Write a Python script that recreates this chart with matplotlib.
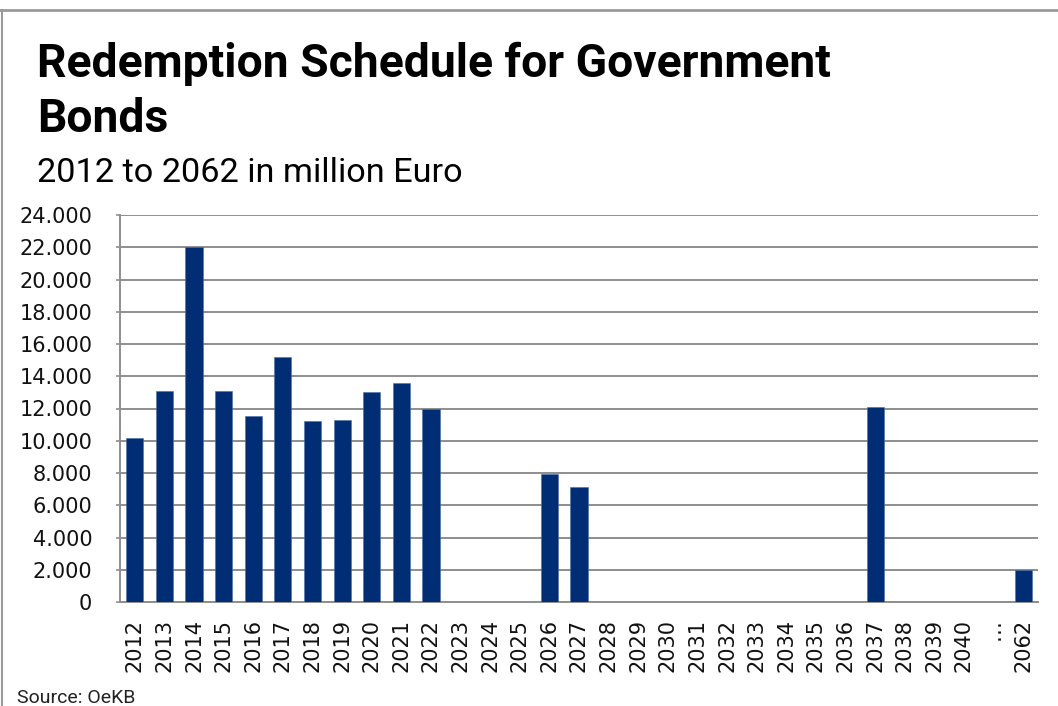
import matplotlib
matplotlib.use("Agg")
import matplotlib.pyplot as plt
from matplotlib.lines import Line2D
from matplotlib.ticker import FuncFormatter

categories = ["2012", "2013", "2014", "2015", "2016", "2017", "2018", "2019", "2020",
              "2021", "2022", "2023", "2024", "2025", "2026", "2027", "2028", "2029",
              "2030", "2031", "2032", "2033", "2034", "2035", "2036", "2037", "2038",
              "2039", "2040", "…", "2062"]
values = [10170, 13100, 22000, 13100, 11550, 15200, 11250, 11300, 13000,
          13600, 11970, 0, 0, 0, 7930, 7130, 0, 0,
          0, 0, 0, 0, 0, 0, 0, 12100, 0,
          0, 0, 0, 2000]
yticks = list(range(0, 24001, 2000))

BAR = "#002D74"
GRID = "#8E8E8E"

fig = plt.figure(figsize=(10.58, 7.06), dpi=100)
W, H = 1058, 706
ax = fig.add_axes([120 / W, 1 - 602 / H, (1038 - 120) / W, (602 - 215) / H])

x = list(range(len(categories)))
ax.bar(x, values, width=0.58, color=BAR, edgecolor="#4A6FA8", linewidth=0.4, zorder=3)
ax.set_xlim(-0.5, len(categories) - 0.5)
ax.set_ylim(0, 24000)
ax.set_yticks(yticks)
ax.yaxis.set_major_formatter(FuncFormatter(lambda v, p: f"{int(v):,}".replace(",", ".")))
ax.set_xticks(x)
ax.set_xticklabels(categories, rotation=90)
ax.grid(axis="y", color=GRID, linewidth=1.4, zorder=0)
for s in ["top", "right"]:
    ax.spines[s].set_visible(False)
ax.spines["left"].set_color(GRID)
ax.spines["left"].set_linewidth(1.4)
ax.spines["bottom"].set_color(GRID)
ax.spines["bottom"].set_linewidth(1.4)
ax.tick_params(axis="y", length=3, color=GRID, width=1.2, labelsize=15, pad=17,
               labelcolor="#111111")
ax.tick_params(axis="x", length=0, labelsize=15, pad=12, labelcolor="#111111")

# frame lines
fig.add_artist(Line2D([0, 1], [1 - 10 / H, 1 - 10 / H], transform=fig.transFigure,
                      color="#9A9A9A", linewidth=2))
fig.add_artist(Line2D([2 / W, 2 / W], [0, 1 - 10 / H], transform=fig.transFigure,
                      color="#9A9A9A", linewidth=1.5))

fig.text(37 / W, 1 - 77 / H, "Redemption Schedule for Government", fontsize=33.3,
         fontweight="bold", family="Roboto", color="black", va="baseline")
fig.text(37 / W, 1 - 132 / H, "Bonds", fontsize=33.3,
         fontweight="bold", family="Roboto", color="black", va="baseline")
fig.text(37 / W, 1 - 182 / H, "2012 to 2062 in million Euro", fontsize=24.7,
         family="Roboto", color="black", va="baseline")
fig.text(17 / W, 1 - 703 / H, "Source: OeKB", fontsize=14,
         family="Roboto", color="#222222", va="baseline")

fig.savefig("out.png", dpi=100)
